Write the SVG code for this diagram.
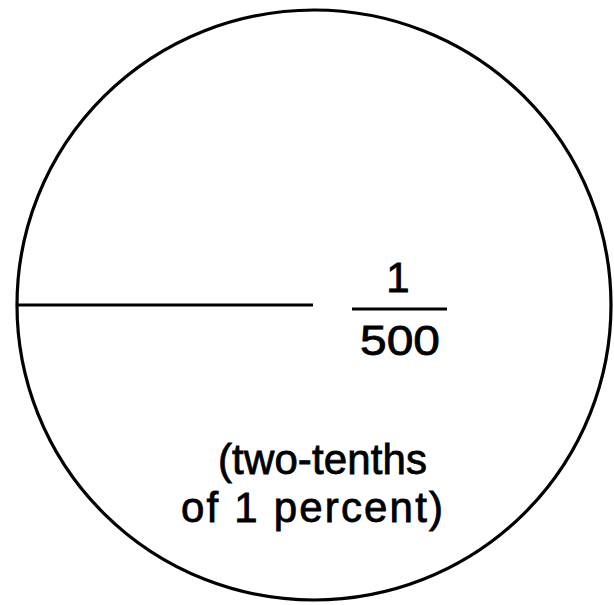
<svg xmlns="http://www.w3.org/2000/svg" width="614" height="605" viewBox="0 0 614 605">
<style>
.s{fill:none;stroke:#000;stroke-width:3.2}
.t{font-family:"Liberation Sans",Arial,sans-serif;font-size:42px;fill:#000;stroke:#000;stroke-width:0.8}
</style>
<rect width="614" height="605" fill="#fff"/>
<g id="circle">
<ellipse class="s" cx="314" cy="305" rx="297" ry="295"/>
</g>
<g id="connectors">
<line class="s" x1="16" y1="305" x2="313" y2="305"/>
</g>
<g id="fraction">
<text class="t" x="398" y="292" text-anchor="middle">1</text>
<line x1="352" y1="309" x2="447" y2="309" stroke="#000" stroke-width="2.8"/>
<text class="t" x="360" y="355" textLength="80" lengthAdjust="spacingAndGlyphs">500</text>
</g>
<g id="label">
<text class="t" x="218" y="474" textLength="209">(two-tenths</text>
<text class="t" x="181" y="522" textLength="262">of 1 percent)</text>
</g>
</svg>
